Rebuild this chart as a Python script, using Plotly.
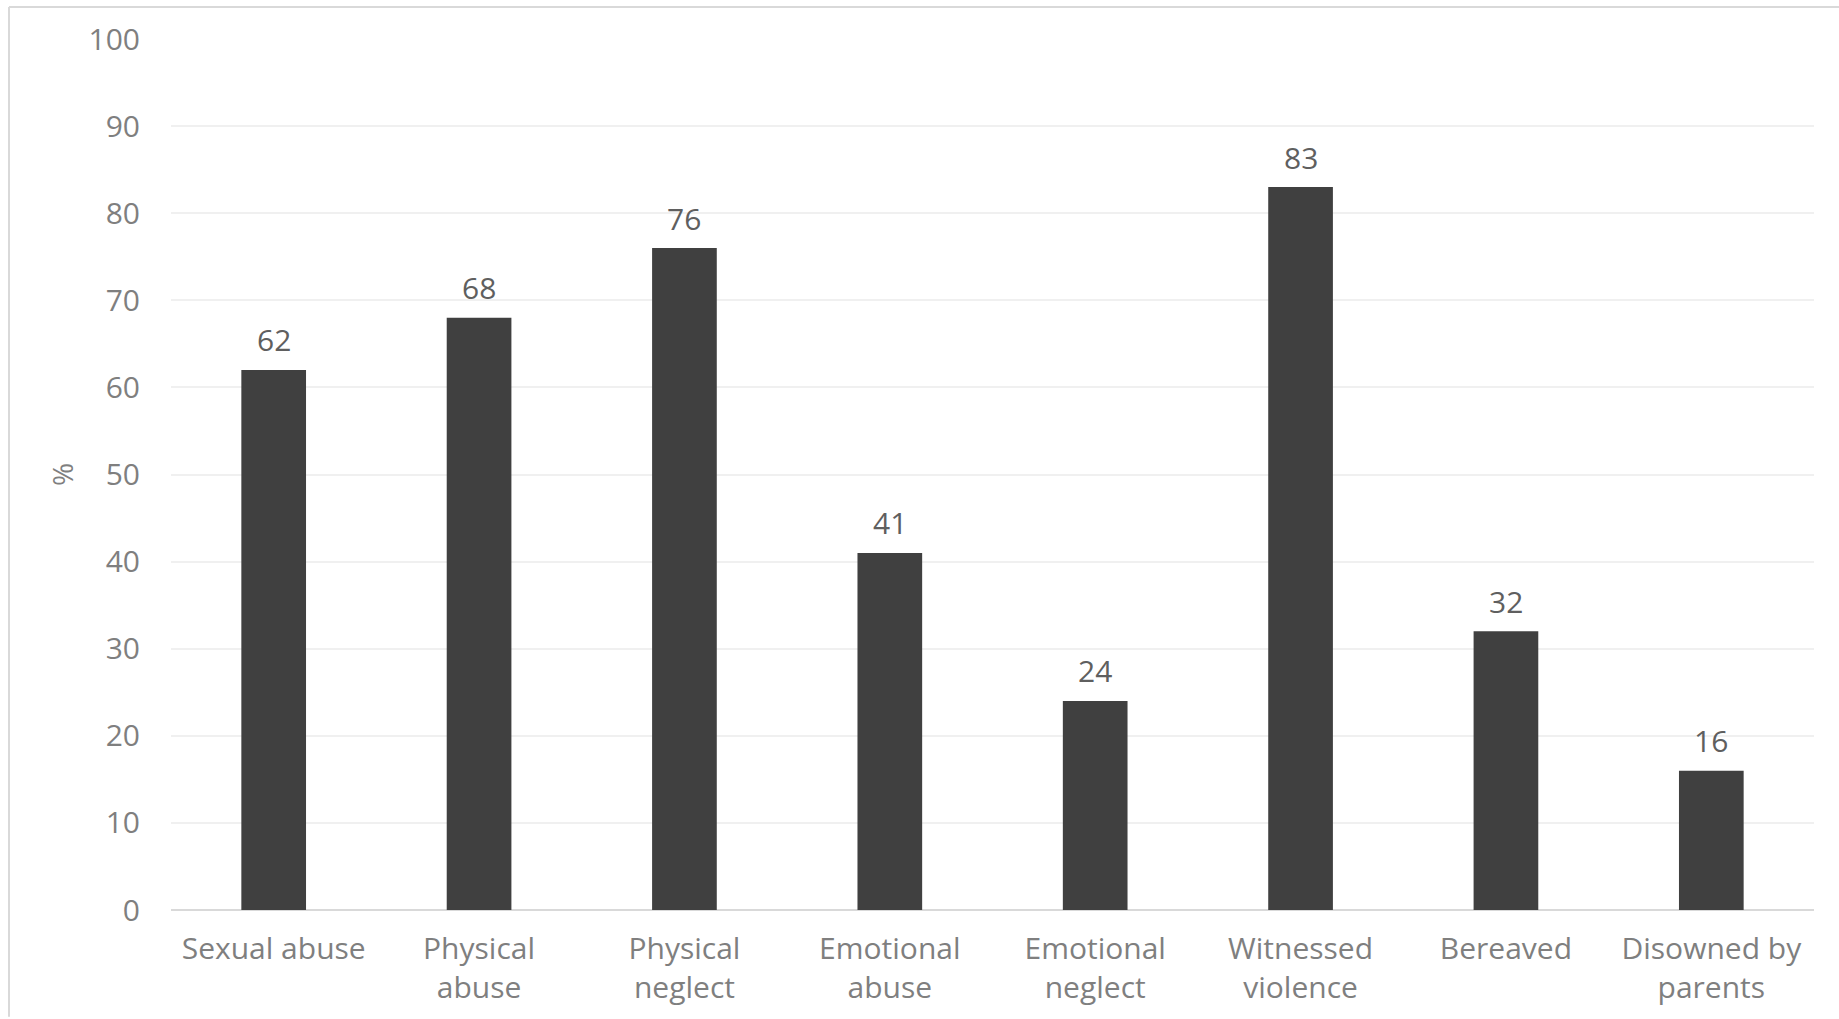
import plotly.graph_objects as go

categories = ["Sexual abuse", "Physical<br>abuse", "Physical<br>neglect", "Emotional<br>abuse",
              "Emotional<br>neglect", "Witnessed<br>violence", "Bereaved", "Disowned by<br>parents"]
values = [62, 68, 76, 41, 24, 83, 32, 16]
y_ticks = [0, 10, 20, 30, 40, 50, 60, 70, 80, 90, 100]

W, H = 1839, 1019
FONT = "Open Sans"
FS = 30
L, R, T, B = 171, 25, 39, 107

fig = go.Figure(go.Bar(
    x=categories, y=values,
    marker=dict(color="#404040", line=dict(width=0)),
))

for c, v in zip(categories, values):
    fig.add_annotation(x=c, y=v, text=str(v), showarrow=False, yanchor="middle", yshift=30,
                       font=dict(family=FONT, size=FS, color="#5f5f5f"))

PW, PH = W - L - R, H - T - B
fig.update_layout(
    width=W, height=H,
    margin=dict(l=L, r=R, t=T, b=B),
    paper_bgcolor="white", plot_bgcolor="white",
    bargap=0.685,
    showlegend=False,
    font=dict(family=FONT, color="#7f7f7f"),
    xaxis=dict(tickfont=dict(family=FONT, size=FS, color="#7f7f7f"),
               showline=False, ticks="", showgrid=False, ticklabelstandoff=18),
    yaxis=dict(range=[0, 100], tickvals=y_ticks, tickfont=dict(family=FONT, size=FS, color="#7f7f7f"),
               showgrid=True, gridcolor="#f0f0f0", gridwidth=2, zeroline=True,
               zerolinecolor="#d9d9d9", zerolinewidth=2, ticks="", ticklen=0,
               ticklabelstandoff=30,
               title=dict(text="%", font=dict(family=FONT, size=FS - 2, color="#7f7f7f"), standoff=6)),
    shapes=[
        dict(type="line", xref="paper", yref="paper", layer="below",
             x0=-(L - 9) / PW, x1=(W - L) / PW,
             y0=(H - B - 7) / PH, y1=(H - B - 7) / PH,
             line=dict(color="#d9d9d9", width=2)),
        dict(type="line", xref="paper", yref="paper", layer="below",
             x0=-(L - 9) / PW, x1=-(L - 9) / PW,
             y0=(H - B - 7) / PH, y1=-B / PH,
             line=dict(color="#d9d9d9", width=2)),
    ],
)

fig.write_html("out.html")
